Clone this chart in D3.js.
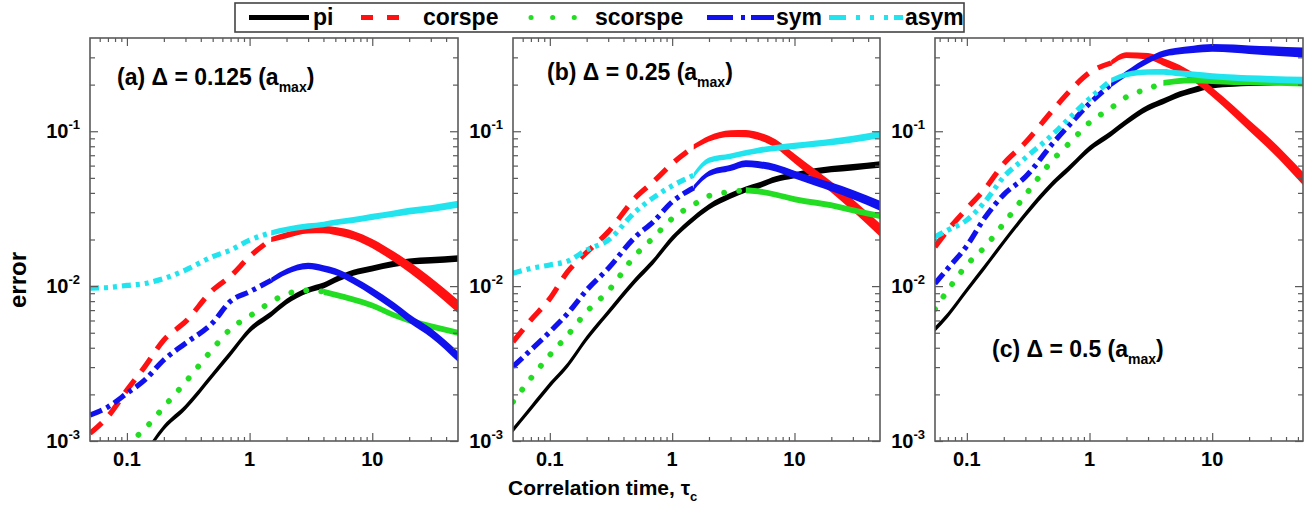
<!DOCTYPE html>
<html>
<head>
<meta charset="utf-8">
<script src="https://cdn.jsdelivr.net/npm/d3@7"></script>
<style>
body { margin: 0; background: #fff; }
svg text { font-family: "Liberation Sans", Arial, sans-serif; font-weight: bold; fill: #000; }
</style>
</head>
<body>
<div id="chart"></div>
<script>
// correlation time samples (panels a, b) and (panel c)
const tau = [0.05, 0.07, 0.1, 0.14, 0.2, 0.3, 0.5, 0.7, 1, 1.5, 2, 3, 4, 5, 7, 10, 15, 20, 30, 50];
const tau_c = [0.055, 0.07, 0.1, 0.14, 0.2, 0.3, 0.5, 0.7, 1, 1.5, 2, 3, 4, 5, 7, 10, 15, 20, 30, 55];

// (a) delta = 0.125
const a_pi      = [null, null, null, 0.00082, 0.00122, 0.00165, 0.00267, 0.00368, 0.0052, 0.00659, 0.00793, 0.00942, 0.0101, 0.0110, 0.0122, 0.0130, 0.0139, 0.0144, 0.0147, 0.0151];
const a_corspe  = [0.00112, 0.00144, 0.00213, 0.00302, 0.00449, 0.00589, 0.00942, 0.0116, 0.0155, 0.0200, 0.0213, 0.0230, 0.0232, 0.0227, 0.0213, 0.0188, 0.0155, 0.0133, 0.0104, 0.0074];
const a_scorspe = [null, null, 0.00095, 0.0012, 0.00166, 0.0024, 0.00393, 0.0053, 0.0064, 0.0079, 0.0089, 0.0094, 0.0092, 0.0088, 0.0082, 0.0075, 0.0065, 0.0060, 0.0055, 0.0050];
const a_sym     = [0.00147, 0.00166, 0.00203, 0.00248, 0.00334, 0.00427, 0.0058, 0.0080, 0.0092, 0.0109, 0.0124, 0.0135, 0.0130, 0.0124, 0.0109, 0.0092, 0.0074, 0.0062, 0.0050, 0.0035];
const a_asym    = [0.0097, 0.0098, 0.0101, 0.0104, 0.0112, 0.0127, 0.0155, 0.0171, 0.0198, 0.0221, 0.0232, 0.0244, 0.0250, 0.0258, 0.0267, 0.0280, 0.0294, 0.0305, 0.0317, 0.0338];

// (b) delta = 0.25
const b_pi      = [0.00118, 0.00163, 0.0023, 0.00309, 0.00459, 0.00676, 0.0109, 0.0144, 0.0203, 0.0273, 0.0325, 0.0383, 0.0421, 0.0444, 0.049, 0.052, 0.0552, 0.0569, 0.0586, 0.061];
const b_corspe  = [0.00437, 0.00604, 0.0083, 0.0124, 0.0165, 0.0224, 0.0372, 0.0471, 0.0618, 0.0792, 0.0897, 0.0966, 0.0966, 0.0933, 0.0832, 0.0667, 0.052, 0.0437, 0.0333, 0.023];
const b_scorspe = [0.00179, 0.00254, 0.00359, 0.00483, 0.00683, 0.00929, 0.0158, 0.0205, 0.0273, 0.0336, 0.0383, 0.0406, 0.0416, 0.041, 0.039, 0.0364, 0.0345, 0.0333, 0.0309, 0.0284];
const b_sym     = [0.00302, 0.00387, 0.00507, 0.00667, 0.00942, 0.0130, 0.0208, 0.026, 0.035, 0.0431, 0.0533, 0.058, 0.0618, 0.061, 0.058, 0.0525, 0.0471, 0.0437, 0.039, 0.033];
const b_asym    = [0.0121, 0.0130, 0.0137, 0.0145, 0.0171, 0.0198, 0.0302, 0.0372, 0.0444, 0.052, 0.065, 0.069, 0.0725, 0.075, 0.078, 0.0804, 0.0832, 0.0853, 0.0888, 0.0952];

// (c) delta = 0.5
const c_pi      = [0.00528, 0.0065, 0.00942, 0.0133, 0.0193, 0.029, 0.0459, 0.0589, 0.0773, 0.0966, 0.115, 0.1416, 0.156, 0.169, 0.184, 0.198, 0.203, 0.205, 0.207, 0.212];
const c_corspe  = [0.0179, 0.023, 0.0317, 0.0423, 0.0618, 0.0845, 0.1365, 0.184, 0.239, 0.276, 0.31, 0.305, 0.28, 0.26, 0.224, 0.179, 0.135, 0.109, 0.0813, 0.0495];
const c_scorspe = [0.0071, 0.00942, 0.0137, 0.0179, 0.0254, 0.0387, 0.065, 0.0853, 0.1138, 0.1414, 0.1665, 0.1884, 0.205, 0.21, 0.2133, 0.211, 0.208, 0.208, 0.206, 0.203];
const c_sym     = [0.0104, 0.0130, 0.0182, 0.0276, 0.039, 0.0507, 0.0832, 0.112, 0.151, 0.2, 0.2355, 0.287, 0.317, 0.328, 0.338, 0.345, 0.341, 0.336, 0.33, 0.322];
const c_asym    = [0.0208, 0.023, 0.0267, 0.035, 0.0507, 0.0673, 0.0952, 0.1236, 0.1626, 0.2133, 0.2323, 0.2415, 0.2415, 0.2377, 0.2323, 0.2265, 0.2218, 0.2188, 0.2164, 0.2133];

const series_names = ['pi', 'corspe', 'scorspe', 'sym', 'asym'];
const y_ticks = [1e-3, 1e-2, 1e-1];
const y_tick_exps = ['-3', '-2', '-1'];
const x_ticks = [0.1, 1, 10];
const x_tick_labels = ['0.1', '1', '10'];
const panel_titles = [
    ['(a) \u0394 = 0.125 (a', 'max', ')'],
    ['(b) \u0394 = 0.25 (a', 'max', ')'],
    ['(c) \u0394 = 0.5 (a', 'max', ')'],
];

const chart_width = 1315;
const chart_height = 506;
const plot_top = 38;
const plot_bottom = 441;
const frame_color = '#5a5a5a';

const panels = [
    {left: 90,  right: 458,  tau: tau,   xdom: [0.05, 50],   data: [a_pi, a_corspe, a_scorspe, a_sym, a_asym], tx: 117, ty: 85},
    {left: 513, right: 880,  tau: tau,   xdom: [0.05, 50],   data: [b_pi, b_corspe, b_scorspe, b_sym, b_asym], tx: 547, ty: 80},
    {left: 935, right: 1303, tau: tau_c, xdom: [0.055, 55],  data: [c_pi, c_corspe, c_scorspe, c_sym, c_asym], tx: 992, ty: 357},
];

// dashed where points are sparse, thickening solid band where they pile up
const styles = {
    pi:      {color: '#000000', dash: null,          width: 5.2, cap: 'round', dense: 0,   end: 6.5},
    corspe:  {color: '#ff1111', dash: '16 11',       width: 5.2, cap: 'butt',  dense: 1.5, end: 13},
    scorspe: {color: '#22dd22', dash: '0.1 15',      width: 5.8, cap: 'round', dense: 4,   end: 6},
    sym:     {color: '#1111ee', dash: '13 5 4 5',    width: 5.2, cap: 'butt',  dense: 1.5, end: 10},
    asym:    {color: '#22e4ee', dash: '9 5 4 5 4 5', width: 5.2, cap: 'butt',  dense: 1.4, end: 7},
};

const svg = d3.select('#chart')
    .append('svg')
    .attr('width', chart_width)
    .attr('height', chart_height);

const minor_y = [];
y_ticks.forEach(d => d3.range(2, 10).forEach(m => { if (d * m < 0.4) minor_y.push(d * m); }));

panels.forEach((p, pi) => {
    const x_scale = d3.scaleLog().domain(p.xdom).range([p.left, p.right]);
    const y_scale = d3.scaleLog().domain([1e-3, 0.4]).range([plot_bottom, plot_top]);
    const g = svg.append('g');

    const minor_x = [];
    [0.01, 0.1, 1, 10].forEach(d => d3.range(2, 10).forEach(m => {
        const v = d * m;
        if (v > p.xdom[0] && v < p.xdom[1] && !x_ticks.includes(v)) minor_x.push(v);
    }));

    // Create Curves
    svg.append('clipPath').attr('id', 'clip' + pi)
        .append('rect')
        .attr('x', p.left).attr('y', plot_top)
        .attr('width', p.right - p.left).attr('height', plot_bottom - plot_top);
    const curves = g.append('g').attr('clip-path', `url(#clip${pi})`);

    series_names.forEach((name, si) => {
        const st = styles[name];
        const pts = p.tau.map((t, i) => ({t: t, v: p.data[si][i]})).filter(d => d.v != null);
        const k = pts.findIndex(d => d.t >= st.dense);
        const sparse = pts.slice(0, k + 1);
        const dense = pts.slice(k);

        if (sparse.length > 1) {
            curves.append('path')
                .datum(sparse)
                .attr('d', d3.line().x(d => x_scale(d.t)).y(d => y_scale(d.v)).curve(d3.curveMonotoneX))
                .attr('fill', 'none')
                .attr('stroke', st.color)
                .attr('stroke-width', st.width)
                .attr('stroke-linecap', st.cap)
                .attr('stroke-dasharray', st.dash);
        }
        const l0 = Math.log10(dense[0].t);
        const l1 = Math.log10(dense[dense.length - 1].t);
        const w = d => st.width + (st.end - st.width) * (Math.log10(d.t) - l0) / (l1 - l0);
        curves.append('path')
            .datum(dense)
            .attr('d', d3.area()
                .x(d => x_scale(d.t))
                .y0(d => y_scale(d.v) - w(d) / 2)
                .y1(d => y_scale(d.v) + w(d) / 2)
                .curve(d3.curveMonotoneX))
            .attr('fill', st.color);
    });

    // Create Axis (ticks inward on all four sides)
    function draw_axis(axis, transform) {
        const ga = g.append('g').attr('transform', transform).call(axis);
        ga.select('.domain').remove();
        ga.selectAll('text').remove();
        ga.selectAll('line').attr('stroke', frame_color).attr('stroke-width', 1.2);
    }
    draw_axis(d3.axisLeft(y_scale).tickValues(y_ticks).tickSize(-8), `translate(${p.left},0)`);
    draw_axis(d3.axisLeft(y_scale).tickValues(minor_y).tickSize(-5), `translate(${p.left},0)`);
    draw_axis(d3.axisRight(y_scale).tickValues(y_ticks).tickSize(-8), `translate(${p.right},0)`);
    draw_axis(d3.axisRight(y_scale).tickValues(minor_y).tickSize(-5), `translate(${p.right},0)`);
    draw_axis(d3.axisBottom(x_scale).tickValues(x_ticks).tickSize(-8), `translate(0,${plot_bottom})`);
    draw_axis(d3.axisBottom(x_scale).tickValues(minor_x).tickSize(-4), `translate(0,${plot_bottom})`);
    draw_axis(d3.axisTop(x_scale).tickValues(x_ticks).tickSize(-8), `translate(0,${plot_top})`);
    draw_axis(d3.axisTop(x_scale).tickValues(minor_x).tickSize(-4), `translate(0,${plot_top})`);

    g.append('rect')
        .attr('x', p.left).attr('y', plot_top)
        .attr('width', p.right - p.left).attr('height', plot_bottom - plot_top)
        .attr('fill', 'none')
        .attr('stroke', frame_color)
        .attr('stroke-width', 1.6);

    // Tick labels
    const yl = g.append('g').selectAll('text')
        .data(y_ticks)
        .enter()
        .append('text')
        .attr('x', p.left - 10)
        .attr('y', d => y_scale(d) + 7)
        .attr('text-anchor', 'end')
        .style('font-size', '20px');
    yl.append('tspan').text('10');
    yl.append('tspan').attr('dy', -9).style('font-size', '13px').text((d, i) => y_tick_exps[i]);

    g.append('g').selectAll('text')
        .data(x_ticks)
        .enter()
        .append('text')
        .attr('x', d => x_scale(d))
        .attr('y', 466)
        .attr('text-anchor', 'middle')
        .style('font-size', '20px')
        .text((d, i) => x_tick_labels[i]);

    // Panel title
    const tt = g.append('text')
        .attr('x', p.tx)
        .attr('y', p.ty)
        .style('font-size', '23px');
    tt.append('tspan').text(panel_titles[pi][0]);
    tt.append('tspan').attr('dy', 7).style('font-size', '14px').text(panel_titles[pi][1]);
    tt.append('tspan').attr('dy', -7).text(panel_titles[pi][2]);
});

// Axis titles
svg.append('text')
    .attr('transform', 'translate(26,280) rotate(-90)')
    .attr('text-anchor', 'middle')
    .style('font-size', '24px')
    .text('error');

const xt = svg.append('text')
    .attr('x', 508)
    .attr('y', 495)
    .style('font-size', '21px');
xt.append('tspan').text('Correlation time, \u03c4');
xt.append('tspan').attr('dy', 6).style('font-size', '13px').text('c');

// Legend
const legend = svg.append('g');
legend.append('rect')
    .attr('x', 235).attr('y', 3)
    .attr('width', 729).attr('height', 29)
    .attr('fill', '#fff')
    .attr('stroke', '#444')
    .attr('stroke-width', 1.6);

const legend_items = [
    {name: 'pi',      x1: 249, x2: 309, tx: 313, dash: null},
    {name: 'corspe',  x1: 361, x2: 399, tx: 423, dash: '12 14'},
    {name: 'scorspe', x1: 531, x2: 575, tx: 595, dash: '0.1 21.5'},
    {name: 'sym',     x1: 707, x2: 774, tx: 776, dash: '26 8 4 6 26'},
    {name: 'asym',    x1: 829, x2: 903, tx: 905, dash: '17 10 4 10 4 10 4 6 9'},
];
legend.selectAll('line')
    .data(legend_items)
    .enter()
    .append('line')
    .attr('x1', d => d.x1).attr('x2', d => d.x2)
    .attr('y1', 17.5).attr('y2', 17.5)
    .attr('stroke', d => styles[d.name].color)
    .attr('stroke-width', 5)
    .attr('stroke-linecap', d => d.name === 'scorspe' ? 'round' : 'butt')
    .attr('stroke-dasharray', d => d.dash);
legend.selectAll('text')
    .data(legend_items)
    .enter()
    .append('text')
    .attr('x', d => d.tx)
    .attr('y', 25)
    .style('font-size', '23px')
    .text(d => d.name);
</script>
</body>
</html>
